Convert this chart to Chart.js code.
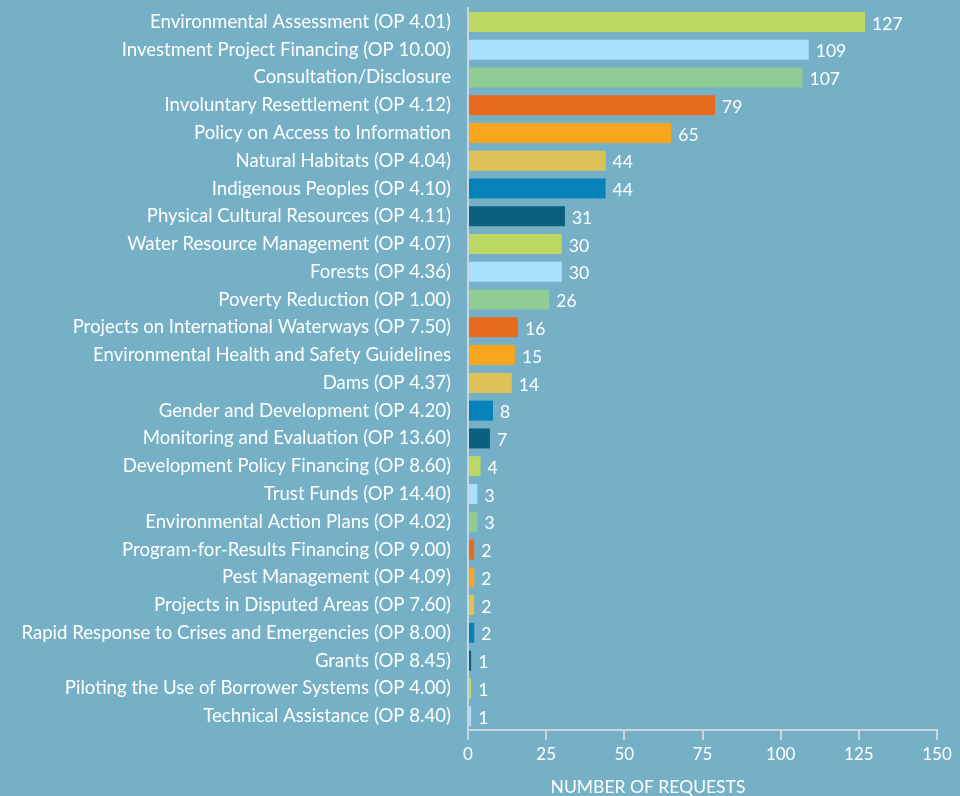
<!DOCTYPE html>
<html>
<head>
<meta charset="utf-8">
<script src="https://cdn.jsdelivr.net/npm/chart.js@4"></script>
<style>
  html, body { margin: 0; padding: 0; background: #76b0c6; }
  #wrap { width: 960px; height: 796px; }
</style>
</head>
<body>
<div id="wrap"><canvas id="chart" width="960" height="796"></canvas></div>
<script>
const categories = [
  'Environmental Assessment (OP 4.01)',
  'Investment Project Financing (OP 10.00)',
  'Consultation/Disclosure',
  'Involuntary Resettlement (OP 4.12)',
  'Policy on Access to Information',
  'Natural Habitats (OP 4.04)',
  'Indigenous Peoples (OP 4.10)',
  'Physical Cultural Resources (OP 4.11)',
  'Water Resource Management (OP 4.07)',
  'Forests (OP 4.36)',
  'Poverty Reduction (OP 1.00)',
  'Projects on International Waterways (OP 7.50)',
  'Environmental Health and Safety Guidelines',
  'Dams (OP 4.37)',
  'Gender and Development (OP 4.20)',
  'Monitoring and Evaluation (OP 13.60)',
  'Development Policy Financing (OP 8.60)',
  'Trust Funds (OP 14.40)',
  'Environmental Action Plans (OP 4.02)',
  'Program-for-Results Financing (OP 9.00)',
  'Pest Management (OP 4.09)',
  'Projects in Disputed Areas (OP 7.60)',
  'Rapid Response to Crises and Emergencies (OP 8.00)',
  'Grants (OP 8.45)',
  'Piloting the Use of Borrower Systems (OP 4.00)',
  'Technical Assistance (OP 8.40)'
];
const requests = [127, 109, 107, 79, 65, 44, 44, 31, 30, 30, 26, 16, 15, 14, 8, 7, 4, 3, 3, 2, 2, 2, 2, 1, 1, 1];
const xTicks = [0, 25, 50, 75, 100, 125, 150];
const palette = ['#bdd862', '#aae0fa', '#8fcd95', '#e76b1f', '#f8a61d', '#ddc357', '#0582b7', '#09607f'];

const FONT = 'Lato, "Open Sans", sans-serif';
const LINE = '#c9d6dc';

const valueLabels = {
  id: 'valueLabels',
  afterDatasetsDraw(chart) {
    const ctx = chart.ctx;
    const meta = chart.getDatasetMeta(0);
    ctx.save();
    ctx.font = '17.5px ' + FONT;
    ctx.fillStyle = '#ffffff';
    ctx.textAlign = 'left';
    ctx.textBaseline = 'middle';
    meta.data.forEach((bar, i) => {
      ctx.fillText(String(requests[i]), bar.x + 7, bar.y + 2);
    });
    ctx.restore();
  }
};

const axisTitle = {
  id: 'axisTitle',
  afterDraw(chart) {
    const ctx = chart.ctx;
    ctx.save();
    ctx.font = '17.5px ' + FONT;
    ctx.fillStyle = '#ffffff';
    ctx.textAlign = 'center';
    ctx.textBaseline = 'middle';
    ctx.fillText('NUMBER OF REQUESTS', chart.chartArea.left + 180, 787);
    ctx.restore();
  }
};

new Chart(document.getElementById('chart'), {
  type: 'bar',
  data: {
    labels: categories,
    datasets: [{
      data: requests,
      backgroundColor: requests.map((_, i) => palette[i % palette.length]),
      borderWidth: 0,
      categoryPercentage: 1,
      barPercentage: 0.72
    }]
  },
  options: {
    indexAxis: 'y',
    responsive: false,
    animation: false,
    layout: { padding: { top: 8, right: 23, left: 0, bottom: 0 } },
    plugins: {
      legend: { display: false },
      tooltip: { enabled: false }
    },
    scales: {
      x: {
        min: 0,
        max: 150,
        afterBuildTicks(scale) { scale.ticks = xTicks.map(v => ({ value: v })); },
        afterFit(scale) { scale.height = 66; scale.paddingLeft = 0; scale.paddingRight = 0; },
        grid: { drawOnChartArea: false, drawTicks: true, tickLength: 10, color: LINE, lineWidth: 2 },
        border: { display: true, color: LINE, width: 2 },
        ticks: { color: '#ffffff', font: { family: FONT, size: 17 }, padding: 4 }
      },
      y: {
        afterFit(scale) { scale.width = 468; scale.paddingTop = 0; scale.paddingBottom = 0; },
        grid: { display: false, drawTicks: false },
        border: { display: true, color: LINE, width: 2 },
        ticks: { color: '#ffffff', font: { family: FONT, size: 18.6 }, padding: 17, autoSkip: false }
      }
    }
  },
  plugins: [valueLabels, axisTitle]
});
</script>
</body>
</html>
